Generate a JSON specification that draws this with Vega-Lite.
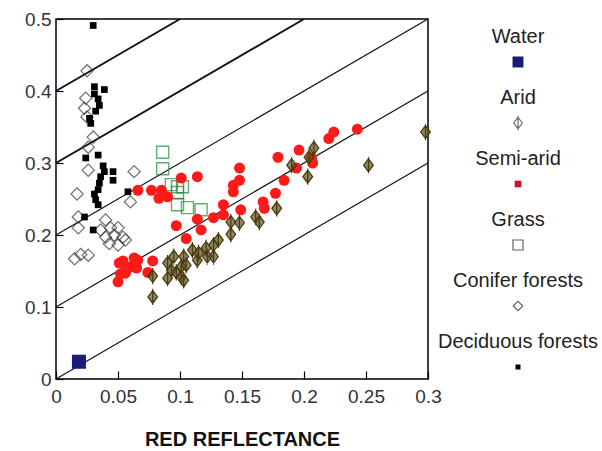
{
  "$schema": "https://vega.github.io/schema/vega-lite/v6.json",
  "background": "white",
  "padding": {"left": 5, "top": 9, "right": 0, "bottom": 5},
  "bounds": "flush",
  "spacing": 2,
  "config": {"font": "Liberation Sans"},
  "datasets": {
    "lines": [
      {"offset": 0, "red": 0, "nir": 0}, {"offset": 0, "red": 0.3, "nir": 0.3},
      {"offset": 0.1, "red": 0, "nir": 0.1}, {"offset": 0.1, "red": 0.3, "nir": 0.4},
      {"offset": 0.2, "red": 0, "nir": 0.2}, {"offset": 0.2, "red": 0.3, "nir": 0.5},
      {"offset": 0.3, "red": 0, "nir": 0.3}, {"offset": 0.3, "red": 0.2, "nir": 0.5},
      {"offset": 0.4, "red": 0, "nir": 0.4}, {"offset": 0.4, "red": 0.1, "nir": 0.5}
    ],
    "points": [
      {"type": "Water", "red": 0.0185, "nir": 0.024},

      {"type": "Deciduous forests", "red": 0.030, "nir": 0.491},
      {"type": "Deciduous forests", "red": 0.031, "nir": 0.406},
      {"type": "Deciduous forests", "red": 0.039, "nir": 0.402},
      {"type": "Deciduous forests", "red": 0.031, "nir": 0.396},
      {"type": "Deciduous forests", "red": 0.034, "nir": 0.389},
      {"type": "Deciduous forests", "red": 0.035, "nir": 0.380},
      {"type": "Deciduous forests", "red": 0.032, "nir": 0.372},
      {"type": "Deciduous forests", "red": 0.027, "nir": 0.362},
      {"type": "Deciduous forests", "red": 0.028, "nir": 0.355},
      {"type": "Deciduous forests", "red": 0.024, "nir": 0.307},
      {"type": "Deciduous forests", "red": 0.034, "nir": 0.311},
      {"type": "Deciduous forests", "red": 0.038, "nir": 0.296},
      {"type": "Deciduous forests", "red": 0.039, "nir": 0.288},
      {"type": "Deciduous forests", "red": 0.046, "nir": 0.288},
      {"type": "Deciduous forests", "red": 0.046, "nir": 0.276},
      {"type": "Deciduous forests", "red": 0.036, "nir": 0.281},
      {"type": "Deciduous forests", "red": 0.035, "nir": 0.272},
      {"type": "Deciduous forests", "red": 0.034, "nir": 0.263},
      {"type": "Deciduous forests", "red": 0.031, "nir": 0.257},
      {"type": "Deciduous forests", "red": 0.032, "nir": 0.249},
      {"type": "Deciduous forests", "red": 0.034, "nir": 0.242},
      {"type": "Deciduous forests", "red": 0.058, "nir": 0.260},
      {"type": "Deciduous forests", "red": 0.023, "nir": 0.225},
      {"type": "Deciduous forests", "red": 0.030, "nir": 0.207},

      {"type": "Conifer forests", "red": 0.025, "nir": 0.428},
      {"type": "Conifer forests", "red": 0.024, "nir": 0.390},
      {"type": "Conifer forests", "red": 0.023, "nir": 0.376},
      {"type": "Conifer forests", "red": 0.025, "nir": 0.364},
      {"type": "Conifer forests", "red": 0.030, "nir": 0.336},
      {"type": "Conifer forests", "red": 0.026, "nir": 0.322},
      {"type": "Conifer forests", "red": 0.026, "nir": 0.290},
      {"type": "Conifer forests", "red": 0.063, "nir": 0.288},
      {"type": "Conifer forests", "red": 0.017, "nir": 0.257},
      {"type": "Conifer forests", "red": 0.060, "nir": 0.246},
      {"type": "Conifer forests", "red": 0.018, "nir": 0.225},
      {"type": "Conifer forests", "red": 0.018, "nir": 0.210},
      {"type": "Conifer forests", "red": 0.040, "nir": 0.221},
      {"type": "Conifer forests", "red": 0.036, "nir": 0.207},
      {"type": "Conifer forests", "red": 0.044, "nir": 0.210},
      {"type": "Conifer forests", "red": 0.050, "nir": 0.210},
      {"type": "Conifer forests", "red": 0.040, "nir": 0.197},
      {"type": "Conifer forests", "red": 0.047, "nir": 0.200},
      {"type": "Conifer forests", "red": 0.054, "nir": 0.197},
      {"type": "Conifer forests", "red": 0.043, "nir": 0.188},
      {"type": "Conifer forests", "red": 0.050, "nir": 0.186},
      {"type": "Conifer forests", "red": 0.056, "nir": 0.193},
      {"type": "Conifer forests", "red": 0.015, "nir": 0.167},
      {"type": "Conifer forests", "red": 0.020, "nir": 0.173},
      {"type": "Conifer forests", "red": 0.026, "nir": 0.172},

      {"type": "Grass", "red": 0.086, "nir": 0.315},
      {"type": "Grass", "red": 0.086, "nir": 0.292},
      {"type": "Grass", "red": 0.093, "nir": 0.270},
      {"type": "Grass", "red": 0.098, "nir": 0.267},
      {"type": "Grass", "red": 0.102, "nir": 0.267},
      {"type": "Grass", "red": 0.098, "nir": 0.259},
      {"type": "Grass", "red": 0.098, "nir": 0.242},
      {"type": "Grass", "red": 0.106, "nir": 0.238},
      {"type": "Grass", "red": 0.117, "nir": 0.235},

      {"type": "Semi-arid", "red": 0.066, "nir": 0.262},
      {"type": "Semi-arid", "red": 0.077, "nir": 0.262},
      {"type": "Semi-arid", "red": 0.083, "nir": 0.251},
      {"type": "Semi-arid", "red": 0.085, "nir": 0.262},
      {"type": "Semi-arid", "red": 0.090, "nir": 0.253},
      {"type": "Semi-arid", "red": 0.101, "nir": 0.279},
      {"type": "Semi-arid", "red": 0.114, "nir": 0.281},
      {"type": "Semi-arid", "red": 0.097, "nir": 0.213},
      {"type": "Semi-arid", "red": 0.114, "nir": 0.222},
      {"type": "Semi-arid", "red": 0.117, "nir": 0.207},
      {"type": "Semi-arid", "red": 0.105, "nir": 0.195},
      {"type": "Semi-arid", "red": 0.127, "nir": 0.224},
      {"type": "Semi-arid", "red": 0.135, "nir": 0.242},
      {"type": "Semi-arid", "red": 0.135, "nir": 0.228},
      {"type": "Semi-arid", "red": 0.149, "nir": 0.235},
      {"type": "Semi-arid", "red": 0.143, "nir": 0.269},
      {"type": "Semi-arid", "red": 0.143, "nir": 0.260},
      {"type": "Semi-arid", "red": 0.148, "nir": 0.293},
      {"type": "Semi-arid", "red": 0.148, "nir": 0.276},
      {"type": "Semi-arid", "red": 0.167, "nir": 0.246},
      {"type": "Semi-arid", "red": 0.168, "nir": 0.237},
      {"type": "Semi-arid", "red": 0.177, "nir": 0.258},
      {"type": "Semi-arid", "red": 0.179, "nir": 0.308},
      {"type": "Semi-arid", "red": 0.184, "nir": 0.276},
      {"type": "Semi-arid", "red": 0.194, "nir": 0.293},
      {"type": "Semi-arid", "red": 0.196, "nir": 0.318},
      {"type": "Semi-arid", "red": 0.206, "nir": 0.307},
      {"type": "Semi-arid", "red": 0.207, "nir": 0.300},
      {"type": "Semi-arid", "red": 0.220, "nir": 0.334},
      {"type": "Semi-arid", "red": 0.224, "nir": 0.343},
      {"type": "Semi-arid", "red": 0.243, "nir": 0.347},
      {"type": "Semi-arid", "red": 0.051, "nir": 0.161},
      {"type": "Semi-arid", "red": 0.054, "nir": 0.164},
      {"type": "Semi-arid", "red": 0.060, "nir": 0.156},
      {"type": "Semi-arid", "red": 0.063, "nir": 0.168},
      {"type": "Semi-arid", "red": 0.066, "nir": 0.165},
      {"type": "Semi-arid", "red": 0.058, "nir": 0.154},
      {"type": "Semi-arid", "red": 0.065, "nir": 0.154},
      {"type": "Semi-arid", "red": 0.078, "nir": 0.164},
      {"type": "Semi-arid", "red": 0.056, "nir": 0.147},
      {"type": "Semi-arid", "red": 0.074, "nir": 0.148},
      {"type": "Semi-arid", "red": 0.052, "nir": 0.146},
      {"type": "Semi-arid", "red": 0.050, "nir": 0.135},

      {"type": "Arid", "red": 0.078, "nir": 0.114},
      {"type": "Arid", "red": 0.078, "nir": 0.143},
      {"type": "Arid", "red": 0.090, "nir": 0.161},
      {"type": "Arid", "red": 0.095, "nir": 0.170},
      {"type": "Arid", "red": 0.093, "nir": 0.151},
      {"type": "Arid", "red": 0.101, "nir": 0.142},
      {"type": "Arid", "red": 0.090, "nir": 0.140},
      {"type": "Arid", "red": 0.101, "nir": 0.156},
      {"type": "Arid", "red": 0.097, "nir": 0.148},
      {"type": "Arid", "red": 0.103, "nir": 0.137},
      {"type": "Arid", "red": 0.103, "nir": 0.170},
      {"type": "Arid", "red": 0.105, "nir": 0.158},
      {"type": "Arid", "red": 0.110, "nir": 0.179},
      {"type": "Arid", "red": 0.114, "nir": 0.165},
      {"type": "Arid", "red": 0.115, "nir": 0.175},
      {"type": "Arid", "red": 0.122, "nir": 0.170},
      {"type": "Arid", "red": 0.121, "nir": 0.182},
      {"type": "Arid", "red": 0.127, "nir": 0.186},
      {"type": "Arid", "red": 0.127, "nir": 0.170},
      {"type": "Arid", "red": 0.131, "nir": 0.193},
      {"type": "Arid", "red": 0.141, "nir": 0.201},
      {"type": "Arid", "red": 0.141, "nir": 0.218},
      {"type": "Arid", "red": 0.148, "nir": 0.217},
      {"type": "Arid", "red": 0.161, "nir": 0.225},
      {"type": "Arid", "red": 0.164, "nir": 0.218},
      {"type": "Arid", "red": 0.178, "nir": 0.237},
      {"type": "Arid", "red": 0.190, "nir": 0.297},
      {"type": "Arid", "red": 0.204, "nir": 0.308},
      {"type": "Arid", "red": 0.208, "nir": 0.321},
      {"type": "Arid", "red": 0.203, "nir": 0.281},
      {"type": "Arid", "red": 0.252, "nir": 0.297},
      {"type": "Arid", "red": 0.298, "nir": 0.343}
    ],
    "legend": [
      {"type": "Water"},
      {"type": "Arid"},
      {"type": "Semi-arid"},
      {"type": "Grass"},
      {"type": "Conifer forests"},
      {"type": "Deciduous forests"}
    ]
  },
  "hconcat": [
    {
      "width": 372,
      "height": 360,
      "view": {"stroke": "#000", "strokeWidth": 1.5},
      "encoding": {
        "x": {
          "field": "red", "type": "quantitative",
          "scale": {"domain": [0, 0.3], "nice": false, "zero": false},
          "axis": {
            "title": "RED REFLECTANCE",
            "values": [0, 0.05, 0.1, 0.15, 0.2, 0.25, 0.3],
            "format": "~g", "grid": false, "domain": false,
            "tickSize": -8, "tickColor": "#000", "tickWidth": 1.2,
            "labelPadding": 16, "labelFontSize": 19, "labelColor": "#333",
            "labelFlush": false,
            "titleFontSize": 20, "titleFontWeight": "bold", "titleColor": "#111",
            "titlePadding": 23
          }
        },
        "y": {
          "field": "nir", "type": "quantitative",
          "scale": {"domain": [0, 0.5], "nice": false, "zero": false},
          "axis": {
            "title": null,
            "values": [0, 0.1, 0.2, 0.3, 0.4, 0.5],
            "format": "~g", "grid": false, "domain": false,
            "tickSize": -7, "tickColor": "#000", "tickWidth": 1.2,
            "labelPadding": 12, "labelFontSize": 19, "labelColor": "#333",
            "labelFlush": false, "minExtent": 50, "maxExtent": 50
          }
        }
      },
      "layer": [
        {
          "data": {"name": "lines"},
          "transform": [{"filter": "datum.offset < 0.25"}],
          "mark": {"type": "line", "color": "#111", "strokeWidth": 1.2},
          "encoding": {"detail": {"field": "offset", "type": "nominal"}}
        },
        {
          "data": {"name": "lines"},
          "transform": [{"filter": "datum.offset > 0.25"}],
          "mark": {"type": "line", "color": "#111", "strokeWidth": 2},
          "encoding": {"detail": {"field": "offset", "type": "nominal"}}
        },
        {
          "data": {"name": "points"},
          "transform": [{"filter": "datum.type === 'Conifer forests'"}],
          "mark": {"type": "point", "shape": "diamond", "filled": false, "stroke": "#333", "strokeWidth": 1.2, "size": 150}
        },
        {
          "data": {"name": "points"},
          "transform": [{"filter": "datum.type === 'Deciduous forests'"}],
          "mark": {"type": "point", "shape": "square", "filled": true, "color": "#000", "opacity": 1, "size": 45}
        },
        {
          "data": {"name": "points"},
          "transform": [{"filter": "datum.type === 'Grass'"}],
          "mark": {"type": "point", "shape": "square", "filled": false, "stroke": "#1f8a35", "strokeWidth": 1.4, "size": 144}
        },
        {
          "data": {"name": "points"},
          "transform": [{"filter": "datum.type === 'Semi-arid'"}],
          "mark": {"type": "point", "shape": "circle", "filled": true, "color": "#ff1a1a", "opacity": 1, "size": 121}
        },
        {
          "data": {"name": "points"},
          "transform": [{"filter": "datum.type === 'Arid'"}],
          "mark": {"type": "point", "shape": "M0,-1L0.75,0L0,1L-0.75,0Z M0,-1.25L0,1.25", "filled": true, "fill": "#5e5020", "fillOpacity": 0.7, "stroke": "#463a0c", "strokeWidth": 1.2, "strokeOpacity": 1, "size": 170}
        },
        {
          "data": {"name": "points"},
          "transform": [{"filter": "datum.type === 'Water'"}],
          "mark": {"type": "point", "shape": "square", "filled": true, "color": "#1b1b78", "opacity": 1, "size": 196}
        }
      ]
    },
    {
      "width": 176,
      "height": 366,
      "view": {"stroke": null},
      "data": {"name": "legend"},
      "encoding": {
        "y": {
          "field": "type", "type": "ordinal",
          "scale": {"type": "point", "padding": 0.5, "domain": ["Water", "Arid", "Semi-arid", "Grass", "Conifer forests", "Deciduous forests"]},
          "axis": null
        }
      },
      "layer": [
        {
          "mark": {"type": "text", "dy": -12.5, "baseline": "middle", "align": "center", "fontSize": 20, "color": "#222"},
          "encoding": {"text": {"field": "type", "type": "nominal"}}
        },
        {
          "transform": [{"filter": "datum.type === 'Water'"}],
          "mark": {"type": "point", "shape": "square", "filled": true, "color": "#1b1b78", "opacity": 1, "size": 120, "yOffset": 12.5}
        },
        {
          "transform": [{"filter": "datum.type === 'Arid'"}],
          "mark": {"type": "point", "shape": "M0,-1L0.75,0L0,1L-0.75,0Z M0,-1.25L0,1.25", "filled": false, "stroke": "#333", "strokeWidth": 1.2, "size": 130, "yOffset": 12.5}
        },
        {
          "transform": [{"filter": "datum.type === 'Semi-arid'"}],
          "mark": {"type": "point", "shape": "square", "filled": true, "color": "#d0103a", "opacity": 1, "size": 45, "yOffset": 12.5}
        },
        {
          "transform": [{"filter": "datum.type === 'Grass'"}],
          "mark": {"type": "point", "shape": "square", "filled": false, "stroke": "#222", "strokeWidth": 1.2, "size": 100, "yOffset": 12.5}
        },
        {
          "transform": [{"filter": "datum.type === 'Conifer forests'"}],
          "mark": {"type": "point", "shape": "diamond", "filled": false, "stroke": "#222", "strokeWidth": 1.2, "size": 90, "yOffset": 12.5}
        },
        {
          "transform": [{"filter": "datum.type === 'Deciduous forests'"}],
          "mark": {"type": "point", "shape": "square", "filled": true, "color": "#000", "opacity": 1, "size": 25, "yOffset": 12.5}
        }
      ]
    }
  ]
}
